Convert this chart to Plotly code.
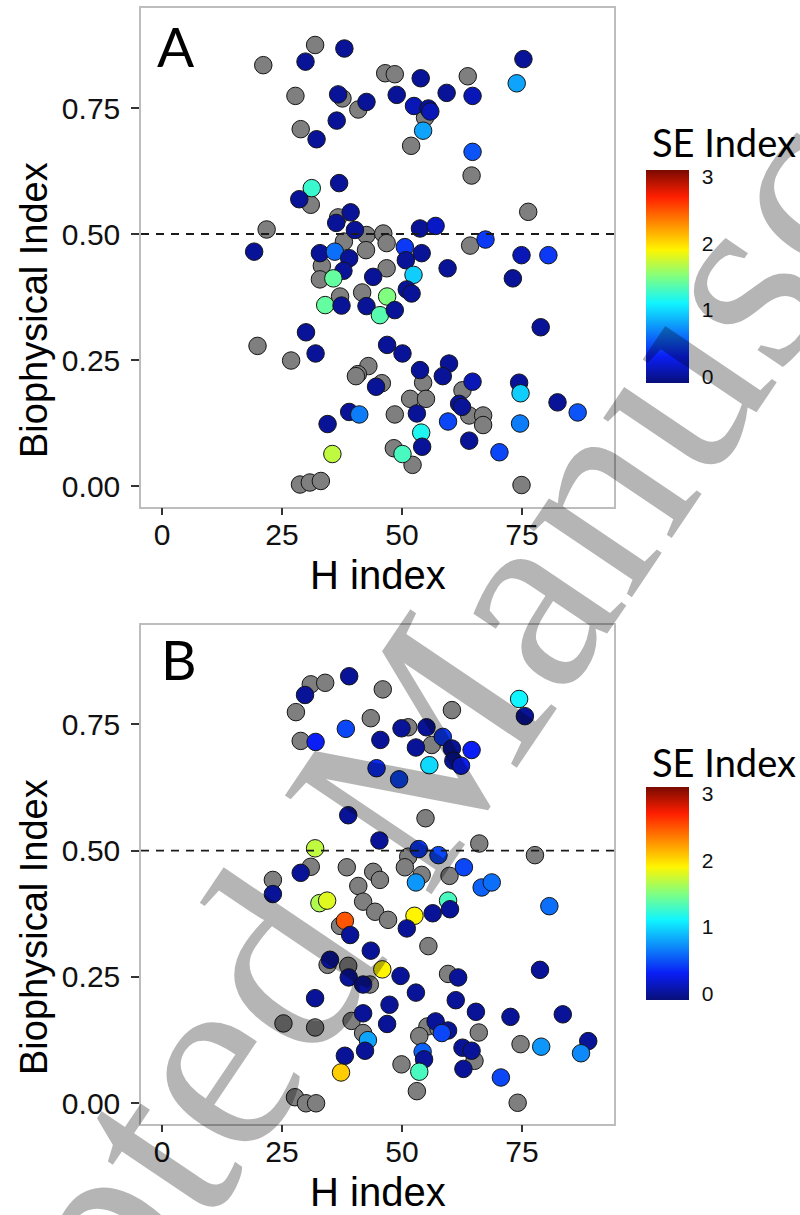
import plotly.graph_objects as go

# ---- data ----
# Panel A: sites without an SE index (drawn grey)
a_grey_h = [21.1, 31.9, 27.8, 37.6, 40.9, 28.9, 31.0, 21.8, 36.7, 42.6, 37.9, 42.5, 46.5, 48.5, 63.7, 54.8,
            51.9, 64.5, 76.3, 46.1, 46.8, 64.2, 33.3, 32.9, 37.1, 41.7, 19.9, 26.9, 43.0, 40.8, 40.4, 28.75,
            30.8, 33.1, 46.8, 45.8, 54.4, 62.6, 51.7, 55.0, 48.5, 64.0, 66.9, 66.9, 48.3, 52.2, 74.9]
a_grey_bio = [0.835, 0.875, 0.774, 0.769, 0.747, 0.708, 0.558, 0.509, 0.533, 0.498, 0.485, 0.468, 0.819, 0.817,
              0.813, 0.731, 0.675, 0.616, 0.544, 0.501, 0.482, 0.477, 0.437, 0.410, 0.376, 0.384, 0.278, 0.249,
              0.238, 0.222, 0.218, 0.003, 0.007, 0.010, 0.432, 0.204, 0.205, 0.190, 0.173, 0.173, 0.142, 0.140,
              0.140, 0.121, 0.075, 0.042, 0.002]
# Panel A: sites with an SE index
a_h = [29.9, 38.0, 36.7, 42.6, 36.4, 32.2, 31.2, 36.9, 28.6, 39.3, 36.3, 40.2, 19.2, 32.9, 36.0, 75.3, 73.9,
       53.9, 48.9, 59.3, 64.7, 52.5, 55.5, 55.9, 54.4, 64.7, 53.75, 57.0, 50.6, 54.1, 67.4, 74.9, 80.5, 39.0,
       37.8, 35.7, 44.0, 34.0, 37.4, 42.6, 30.0, 32.0, 44.6, 39.0, 41.1, 34.5, 35.5, 59.5, 73.1, 78.9, 50.8,
       52.4, 51.0, 52.0, 46.9, 45.4, 48.5, 46.9, 50.1, 53.75, 59.8, 58.5, 64.7, 61.9, 62.5, 53.1, 59.6, 64.0,
       54.0, 54.2, 50.1, 70.3, 74.4, 74.7, 74.6, 82.4, 86.6]
a_bio = [0.842, 0.868, 0.777, 0.762, 0.725, 0.688, 0.591, 0.601, 0.569, 0.543, 0.522, 0.508, 0.465, 0.462,
         0.465, 0.847, 0.799, 0.809, 0.776, 0.780, 0.774, 0.754, 0.749, 0.743, 0.705, 0.663, 0.511, 0.516,
         0.474, 0.462, 0.489, 0.458, 0.458, 0.452, 0.427, 0.412, 0.415, 0.359, 0.358, 0.357, 0.305, 0.263,
         0.197, 0.147, 0.142, 0.123, 0.0635, 0.432, 0.412, 0.315, 0.448, 0.419, 0.390, 0.382, 0.376, 0.339,
         0.349, 0.280, 0.263, 0.230, 0.243, 0.218, 0.207, 0.163, 0.157, 0.144, 0.128, 0.090, 0.106, 0.078,
         0.0635, 0.067, 0.205, 0.184, 0.124, 0.166, 0.146]
a_se = [0, 0, 0, 0, 0, 0, 1.25, 0, 0, 0, 0, 0, 0, 0, 0.6, 0, 0.8, 0, 0, 0, 0.1, 0.1, 0, 0.1, 0.8, 0.5, 0,
        0.15, 0.4, 0, 0.4, 0.1, 0.4, 0, 0, 1.4, 0, 1.4, 0, 0, 0, 0, 0, 0, 0.65, 0, 1.7, 0, 0, 0, 0, 0.95, 0,
        0, 1.5, 1.35, 0, 0, 0, 0, 0, 0, 0.1, 0, 0, 0, 0.45, 0, 1.15, 0, 1.3, 0.45, 0, 0.95, 0.65, 0, 0.5]

# Panel B
b_grey_h = [31.0, 34.0, 27.9, 28.9, 43.5, 46.0, 60.4, 51.3, 56.2, 54.9, 66.1, 77.7, 51.3, 31.0, 23.1, 38.5,
            44.0, 40.9, 41.9, 44.4, 37.1, 34.5, 38.8, 43.3, 25.3, 31.9, 39.5, 41.9, 27.7, 30.0, 32.1, 45.4,
            50.6, 54.1, 59.9, 47.1, 55.5, 59.6, 55.3, 53.6, 57.6, 66.0, 65.1, 74.7, 74.1, 49.9, 53.1]
b_grey_bio = [0.829, 0.832, 0.774, 0.717, 0.762, 0.819, 0.778, 0.744, 0.709, 0.564, 0.514, 0.491, 0.488,
              0.468, 0.442, 0.467, 0.458, 0.430, 0.399, 0.379, 0.351, 0.274, 0.272, 0.235, 0.158, 0.150,
              0.163, 0.139, 0.012, 0.000, 0.000, 0.442, 0.467, 0.452, 0.450, 0.363, 0.311, 0.256, 0.152,
              0.133, 0.148, 0.140, 0.084, 0.117, 0.001, 0.077, 0.024]
b_h = [29.8, 39.0, 32.0, 38.3, 44.7, 38.8, 31.9, 74.4, 75.6, 49.9, 55.1, 45.5, 58.5, 52.9, 60.4, 64.5, 60.7,
       62.3, 55.7, 49.4, 45.3, 53.5, 57.6, 62.9, 28.9, 23.1, 32.8, 34.4, 38.1, 39.2, 43.5, 35.0, 38.9, 41.9,
       45.9, 31.9, 41.9, 42.9, 42.3, 38.1, 37.3, 52.9, 66.6, 68.7, 80.7, 59.6, 60.0, 56.4, 52.6, 51.0, 49.7,
       61.7, 78.75, 52.9, 61.2, 47.4, 65.4, 72.6, 83.5, 46.9, 57.0, 59.6, 58.3, 62.6, 64.5, 62.8, 79.0, 88.8,
       87.3, 70.6, 54.3, 54.6, 53.6]
b_bio = [0.808, 0.845, 0.715, 0.741, 0.663, 0.570, 0.5045, 0.800, 0.766, 0.742, 0.744, 0.719, 0.725, 0.704,
         0.702, 0.699, 0.678, 0.668, 0.669, 0.641, 0.520, 0.503, 0.491, 0.467, 0.456, 0.414, 0.396, 0.401,
         0.361, 0.333, 0.302, 0.284, 0.249, 0.235, 0.265, 0.208, 0.178, 0.125, 0.104, 0.094, 0.061, 0.437,
         0.427, 0.437, 0.390, 0.401, 0.384, 0.376, 0.371, 0.346, 0.252, 0.249, 0.264, 0.219, 0.204, 0.195,
         0.181, 0.171, 0.176, 0.157, 0.162, 0.144, 0.139, 0.110, 0.104, 0.068, 0.112, 0.123, 0.099, 0.051,
         0.102, 0.087, 0.0625]
b_se = [0, 0, 0.3, 0.45, 0.35, 0, 1.7, 1.1, 0, 0, 0, 0, 0.4, 0, 0, 0.3, 0, 0.3, 1.0, 0.45, 0, 0.4, 0.45,
        0.45, 0, 0, 1.65, 1.8, 2.5, 0, 0, 0, 0, 0, 1.9, 0, 0, 0.8, 0, 0, 2.05, 0.75, 0.55, 0.6, 0.6, 1.3, 0,
        0, 1.9, 0, 0, 0, 0, 0, 0, 0, 0, 0, 0, 0, 0, 0, 0.45, 0, 0, 0, 0.75, 0, 0.7, 0.45, 0.55, 0, 1.3]

x_ticks = [0, 25, 50, 75]
y_ticks = [0.00, 0.25, 0.50, 0.75]
y_tick_text = ["0.00", "0.25", "0.50", "0.75"]
se_ticks = [0, 1, 2, 3]

JET = [[0.0, "#080f78"], [0.125, "#0a1ef5"], [0.375, "#10f5ff"], [0.5, "#80ff80"],
       [0.625, "#fff500"], [0.875, "#ff1e00"], [1.0, "#7a0a00"]]
SANS = "Liberation Sans, Arial, sans-serif"
CAL = "Lato, Open Sans, sans-serif"
W, H = 800, 1215


def py(pix):
    # pixel row -> paper fraction
    return 1 - pix / H


fig = go.Figure()

panels = [
    ("x", "y", "coloraxis", a_grey_h, a_grey_bio, a_h, a_bio, a_se),
    ("x2", "y2", "coloraxis2", b_grey_h, b_grey_bio, b_h, b_bio, b_se),
]
for xa, ya, cax, gh, gb, ch, cb, cs in panels:
    fig.add_trace(go.Scatter(
        x=gh, y=gb, mode="markers", xaxis=xa, yaxis=ya, showlegend=False,
        marker=dict(size=17.5, color="#7f7f7f", line=dict(color="#151515", width=1))
    ))
    fig.add_trace(go.Scatter(
        x=ch, y=cb, mode="markers", xaxis=xa, yaxis=ya, showlegend=False,
        marker=dict(size=17.5, color=cs, coloraxis=cax, line=dict(color="#151515", width=1))
    ))
    # reference line at 0.5
    fig.add_shape(type="line", xref=f"{xa} domain", yref=ya, x0=0, x1=1, y0=0.5, y1=0.5,
                  line=dict(color="#1a1a1a", width=1.8, dash="8px,7px"))

x_common = dict(range=[-4.375, 94.17], tickvals=x_ticks, ticks="outside", ticklen=7, tickwidth=1.5,
                tickcolor="#333333", showline=True, linecolor="#bdbdbd", linewidth=1.5, mirror=True,
                showgrid=False, zeroline=False, domain=[141 / W, 614 / W],
                tickfont=dict(family=SANS, size=30, color="#111111"), ticklabelstandoff=-6)
y_common = dict(tickvals=y_ticks, ticktext=y_tick_text, ticks="outside", ticklen=8, tickwidth=1.5,
                tickcolor="#333333", showline=True, linecolor="#bdbdbd", linewidth=1.5, mirror=True,
                showgrid=False, zeroline=False,
                tickfont=dict(family=SANS, size=30, color="#111111"), ticklabelstandoff=5)

cbar_common = dict(thickness=43, lenmode="pixels", len=213, x=645.7 / W, xanchor="left",
                   xpad=0, ypad=0, yanchor="middle", outlinewidth=0, tickvals=se_ticks,
                   ticks="outside", ticklen=9, tickcolor="white",
                   tickfont=dict(family=SANS, size=21, color="#111111"))

fig.update_layout(
    width=W, height=H,
    margin=dict(l=0, r=0, t=0, b=0),
    paper_bgcolor="white", plot_bgcolor="white",
    xaxis=dict(**x_common, anchor="y"),
    yaxis=dict(**y_common, range=[-0.041, 0.9478], domain=[py(506.7), py(8.3)], anchor="x"),
    xaxis2=dict(**x_common, anchor="y2"),
    yaxis2=dict(**y_common, range=[-0.040, 0.9464], domain=[py(1123.5), py(625)], anchor="x2"),
    coloraxis=dict(colorscale=JET, cmin=-0.1, cmax=3.1,
                   colorbar=dict(**cbar_common, y=py(276.5))),
    coloraxis2=dict(colorscale=JET, cmin=-0.1, cmax=3.1,
                    colorbar=dict(**cbar_common, y=py(893.5))),
)

notes = [
    # panel letters
    dict(text="A", x=155 / W, y=py(46), xanchor="left", yanchor="middle",
         font=dict(family=CAL, size=55, color="black")),
    dict(text="B", x=159 / W, y=py(659), xanchor="left", yanchor="middle",
         font=dict(family=CAL, size=55, color="black")),
    # colour bar titles
    dict(text="SE Index", x=650 / W, y=py(142.5), xanchor="left", yanchor="middle",
         font=dict(family=CAL, size=38, color="black")),
    dict(text="SE Index", x=650 / W, y=py(762), xanchor="left", yanchor="middle",
         font=dict(family=CAL, size=38, color="black")),
    # axis titles
    dict(text="H index", x=377.5 / W, y=py(575), xanchor="center", yanchor="middle",
         font=dict(family=SANS, size=40, color="black")),
    dict(text="H index", x=377.5 / W, y=py(1192), xanchor="center", yanchor="middle",
         font=dict(family=SANS, size=40, color="black")),
    dict(text="Biophysical Index", x=34 / W, y=py(310), xanchor="center", yanchor="middle",
         textangle=-90, font=dict(family=SANS, size=38, color="black")),
    dict(text="Biophysical Index", x=34 / W, y=py(927), xanchor="center", yanchor="middle",
         textangle=-90, font=dict(family=SANS, size=38, color="black")),
    # journal watermark
    dict(text="Accepted Manuscript", x=392 / W, y=py(790), xanchor="center", yanchor="middle",
         textangle=-56, font=dict(family="Liberation Serif, Times New Roman, serif", size=270,
                                  color="rgba(0,0,0,0.29)")),
]
for n in notes:
    fig.add_annotation(xref="paper", yref="paper", showarrow=False, **n)

# the page's default body margin would shift the whole figure by 8 px
fig.write_html("out.html", config={"displayModeBar": False},
               post_script="document.body.style.margin='0';")
